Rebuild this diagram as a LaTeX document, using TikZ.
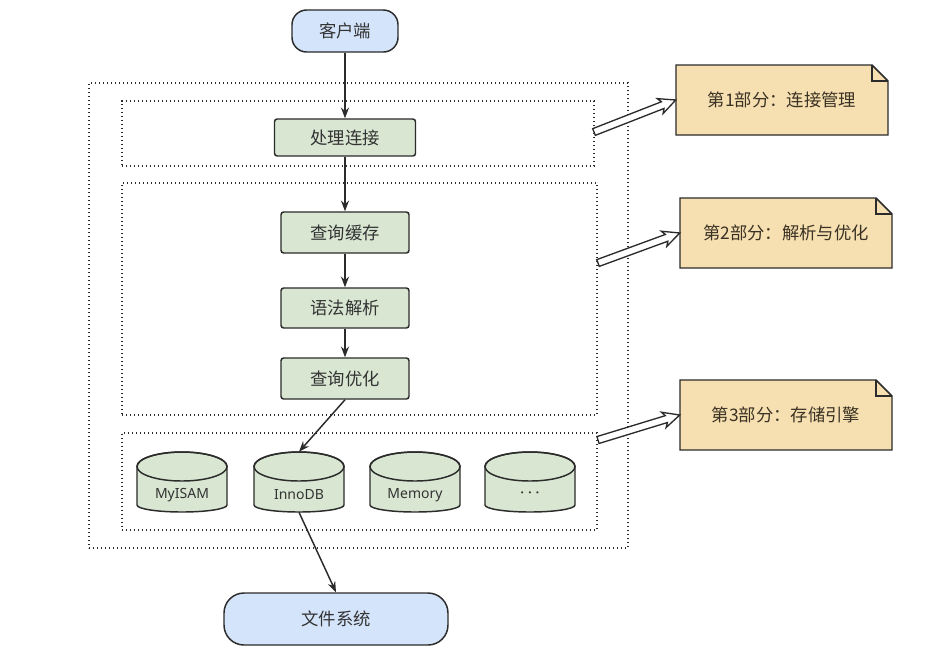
\documentclass[tikz,border=0pt]{standalone}
\usepackage{fontspec}
\setmainfont{Noto Sans CJK SC}
\newfontfamily\latinf{Noto Sans}
\usetikzlibrary{arrows.meta,fit,calc}
\definecolor{greenf}{HTML}{D8E6D2}
\definecolor{bluef}{HTML}{D4E4FA}
\definecolor{notef}{HTML}{F6DFB0}
\definecolor{linec}{HTML}{2B2B2B}
\definecolor{txt}{HTML}{333333}
\definecolor{notetxt}{HTML}{3A3224}

\newcommand\dbcyl[6]{%
  \draw[draw=linec, fill=greenf, line width=1.1pt]
    (#2,{#3+14.5}) -- (#2,{#5-7})
    arc[start angle=180, end angle=360, x radius={(#4-#2)/2*0.75pt}, y radius={7*0.75pt}]
    -- (#4,{#3+14.5})
    arc[start angle=0, end angle=180, x radius={(#4-#2)/2*0.75pt}, y radius={14.5*0.75pt}]
    -- cycle;
  \draw[draw=linec, line width=1.1pt] ({(#2+#4)/2},{#3+14.5})
    ellipse[x radius={(#4-#2)/2*0.75pt}, y radius={14.5*0.75pt}];
  \node[fit={(#2,#3)(#4,#5)}, inner sep=0pt] (#1) {};
  \node[font=\latinf\fontsize{10.5}{12}\selectfont, text=txt] (#1-label) at ({(#2+#4)/2},{#5-17}) {#6};
}

\newcommand\mynote[6]{%
  \draw[draw=linec, fill=notef, line width=1.1pt]
    (#2,#3) -- ({#4-16},#3) -- (#4,{#3+16}) -- (#4,#5) -- (#2,#5) -- cycle;
  \draw[draw=linec, line width=1pt] ({#4-16},#3) -- ({#4-16},{#3+16}) -- (#4,{#3+16});
  \node[fit={(#2,#3)(#4,#5)}, inner sep=0pt] (#1) {};
  \node[text=notetxt] (#1-text) at ({(#2+#4)/2},{(#3+#5)/2}) {#6};
}

% outlined block arrow from #1 to #2
\newcommand\fatarrow[2]{%
  \coordinate (fa-n) at ($(#2)!10.5pt!(#1)$);
  \coordinate (fa-b) at ($(#2)!12.5pt!(#1)$);
  \draw[draw=linec, fill=white, line width=1pt, line join=miter]
    ($(#1)!2.7pt!90:(#2)$) -- ($(fa-n)!2.7pt!-90:(#1)$)
    -- ($(fa-b)!6pt!-90:(#1)$) -- (#2)
    -- ($(fa-b)!6pt!90:(#1)$) -- ($(fa-n)!2.7pt!90:(#1)$)
    -- ($(#1)!2.7pt!-90:(#2)$) -- cycle;
}

\begin{document}
\begin{tikzpicture}[x=0.75pt, y=-0.75pt,
  every node/.style={font=\fontsize{13}{15}\selectfont, text=txt},
  gbox/.style={draw=linec, fill=greenf, line width=1.1pt, rounded corners=2pt, inner sep=0pt},
  bbox/.style={draw=linec, fill=bluef, line width=1.1pt, inner sep=0pt},
  dotbox/.style={draw=linec, line width=1pt, dash pattern=on 1.1pt off 1.9pt, inner sep=0pt},
  conn/.style={draw=linec, line width=1.1pt, -{Stealth[length=8pt,width=6pt]}},
]
\useasboundingbox[fill=white] (0,0) rectangle (934,658);

% dotted group boxes
\node[dotbox, fit={(89,83)(628,548)}] (outer) {};
\node[dotbox, fit={(122,101)(594,166)}] (part1) {};
\node[dotbox, fit={(122,183)(597,415)}] (part2) {};
\node[dotbox, fit={(122,433)(597,530)}] (part3) {};
\coordinate (p1out) at (594,132);
\coordinate (p2out) at (598,263);
\coordinate (p3out) at (598,440);

% terminals
\node[bbox, rounded corners=11pt, minimum width=79.5pt, minimum height=31.5pt] (client) at (345,31) {客户端};
\node[bbox, rounded corners=15pt, minimum width=168pt, minimum height=39pt] (fs) at (336,619) {文件系统};

% steps
\node[gbox, minimum width=105.75pt, minimum height=27.75pt] (connect) at (345,137.5) {处理连接};
\node[gbox, minimum width=96pt, minimum height=30.75pt] (cache) at (345,232.5) {查询缓存};
\node[gbox, minimum width=96pt, minimum height=30pt] (parse) at (345,308) {语法解析};
\node[gbox, minimum width=96pt, minimum height=30.75pt] (optim) at (345,378.5) {查询优化};

% storage engines
\dbcyl{myisam}{137}{452}{227}{512}{MyISAM}
\dbcyl{innodb}{254}{452}{344}{512}{InnoDB}
\dbcyl{memory}{370}{452}{460}{512}{Memory}
\dbcyl{more}{485}{452}{575}{512}{\fontsize{12}{12}\selectfont\bfseries ·\hspace{2.5pt}·\hspace{2.5pt}·}

% notes
\mynote{note1}{676}{65}{888}{135}{第1部分：连接管理}
\mynote{note2}{680}{198}{892}{268}{第2部分：解析与优化}
\mynote{note3}{680}{380}{892}{450}{第3部分：存储引擎}

% connectors
\draw[conn] (client) -- (connect);
\draw[conn] (connect) -- (cache);
\draw[conn] (cache) -- (parse);
\draw[conn] (parse) -- (optim);
\draw[conn] (optim.south) -- (innodb.north);
\draw[conn] (innodb.south) -- (fs.north);

% callout arrows
\fatarrow{p1out}{note1.west}
\fatarrow{p2out}{note2.west}
\fatarrow{p3out}{note3.west}
\end{tikzpicture}
\end{document}
